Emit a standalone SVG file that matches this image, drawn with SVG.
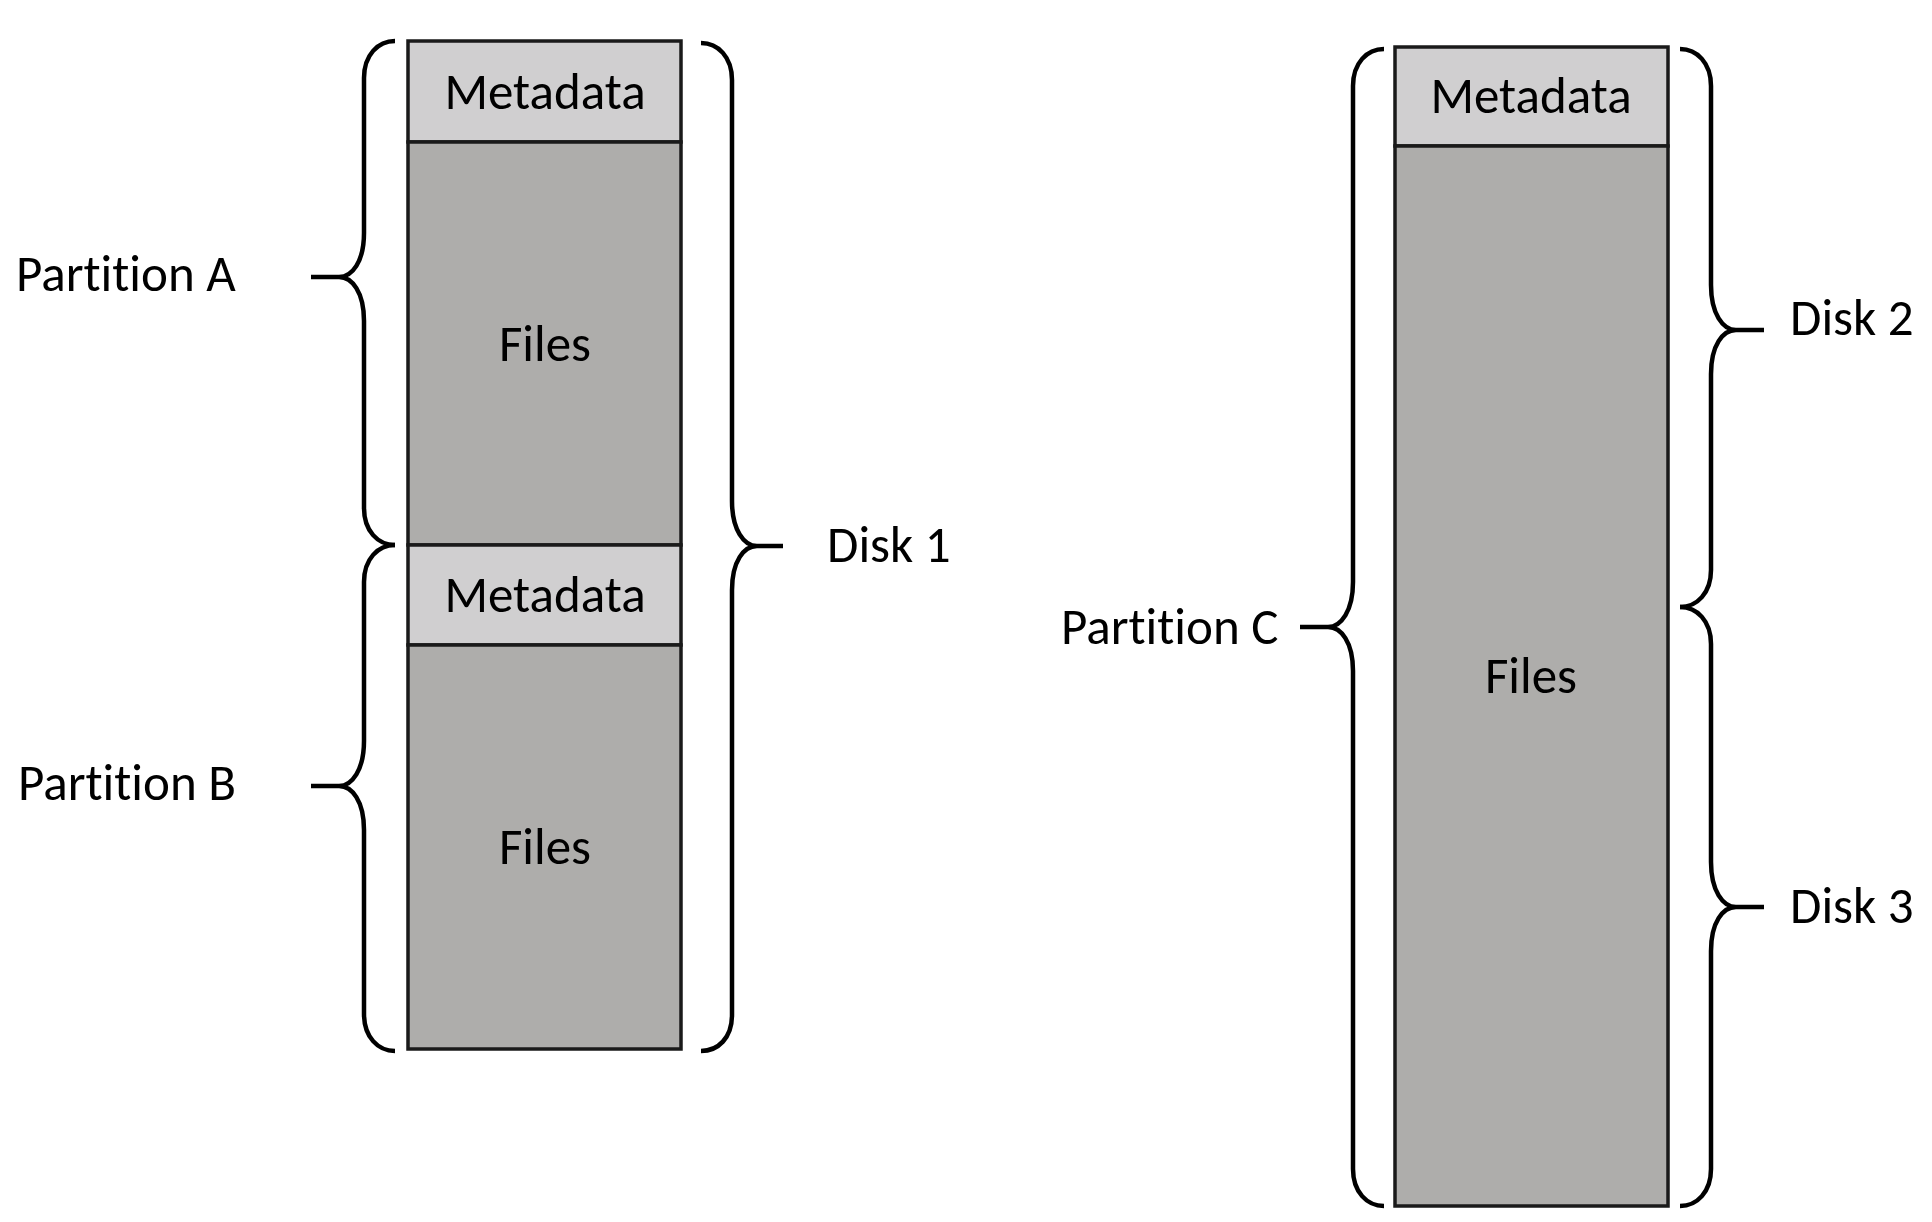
<svg xmlns="http://www.w3.org/2000/svg" width="1932" height="1222" viewBox="0 0 1932 1222">
<style>
.meta{fill:#d0cfd0;stroke:#1a1a1a;stroke-width:3.5}
.files{fill:#aeadab;stroke:#1a1a1a;stroke-width:3.5}
.brace{fill:none;stroke:#000;stroke-width:4.5;stroke-linejoin:round}
text{font-family:Carlito,Lato,"Open Sans",sans-serif;font-size:51px;fill:#000;font-variant-ligatures:none;font-feature-settings:"liga" 0,"dlig" 0}
.c{text-anchor:middle}
</style>
<rect width="1932" height="1222" fill="#fff"/>
<g id="disk1-column">
  <g id="meta-a"><rect class="meta" x="408" y="41" width="273" height="101"/><text class="c" x="545" y="109">Metadata</text></g>
  <g id="files-a"><rect class="files" x="408" y="142" width="273" height="403"/><text class="c" x="545" y="361">Files</text></g>
  <g id="meta-b"><rect class="meta" x="408" y="545" width="273" height="100"/><text class="c" x="545" y="612">Metadata</text></g>
  <g id="files-b"><rect class="files" x="408" y="645" width="273" height="404"/><text class="c" x="545" y="864">Files</text></g>
</g>
<g id="disk23-column">
  <g id="meta-c"><rect class="meta" x="1395" y="47" width="273" height="99"/><text class="c" x="1531" y="113">Metadata</text></g>
  <g id="files-c"><rect class="files" x="1395" y="146" width="273" height="1060"/><text class="c" x="1531" y="693">Files</text></g>
</g>
<g id="connectors">
  <path id="brace-a" class="brace" d="M395,41 C378,41 364,55 364,78 L364,233 C364,262 352,277 339,277 L311,277 M339,277 C352,277 364,292 364,321 L364,508 C364,531 378,545 395,545"/>
  <path id="brace-b" class="brace" d="M395,545 C378,545 364,559 364,582 L364,741 C364,770 352,786 339,786 L311,786 M339,786 C352,786 364,801 364,830 L364,1014 C364,1037 378,1051 395,1051"/>
  <path id="brace-disk1" class="brace" d="M701,43 C718,43 732,57 732,80 L732,501 C732,530 744,546 757,546 L783,546 M757,546 C744,546 732,561 732,590 L732,1015 C732,1038 718,1051 701,1051"/>
  <path id="brace-c" class="brace" d="M1384,49 C1367,49 1353,63 1353,86 L1353,582 C1353,611 1341,627 1328,627 L1300,627 M1328,627 C1341,627 1353,642 1353,671 L1353,1169 C1353,1192 1367,1206 1384,1206"/>
  <path id="brace-disk2" class="brace" d="M1680,49 C1697,49 1711,63 1711,86 L1711,285 C1711,314 1723,330 1736,330 L1764,330 M1736,330 C1723,330 1711,345 1711,374 L1711,570 C1711,593 1697,607 1680,607"/>
  <path id="brace-disk3" class="brace" d="M1680,607 C1697,607 1711,621 1711,644 L1711,862 C1711,891 1723,907 1736,907 L1764,907 M1736,907 C1723,907 1711,922 1711,951 L1711,1169 C1711,1192 1697,1206 1680,1206"/>
</g>
<g id="labels">
  <text id="label-partition-a" x="16" y="291">Partition A</text>
  <text id="label-partition-b" x="18" y="800">Partition B</text>
  <text id="label-partition-c" x="1061" y="644">Partition C</text>
  <text id="label-disk1" x="827" y="562">Disk 1</text>
  <text id="label-disk2" x="1790" y="335">Disk 2</text>
  <text id="label-disk3" x="1790" y="923">Disk 3</text>
</g>
</svg>
